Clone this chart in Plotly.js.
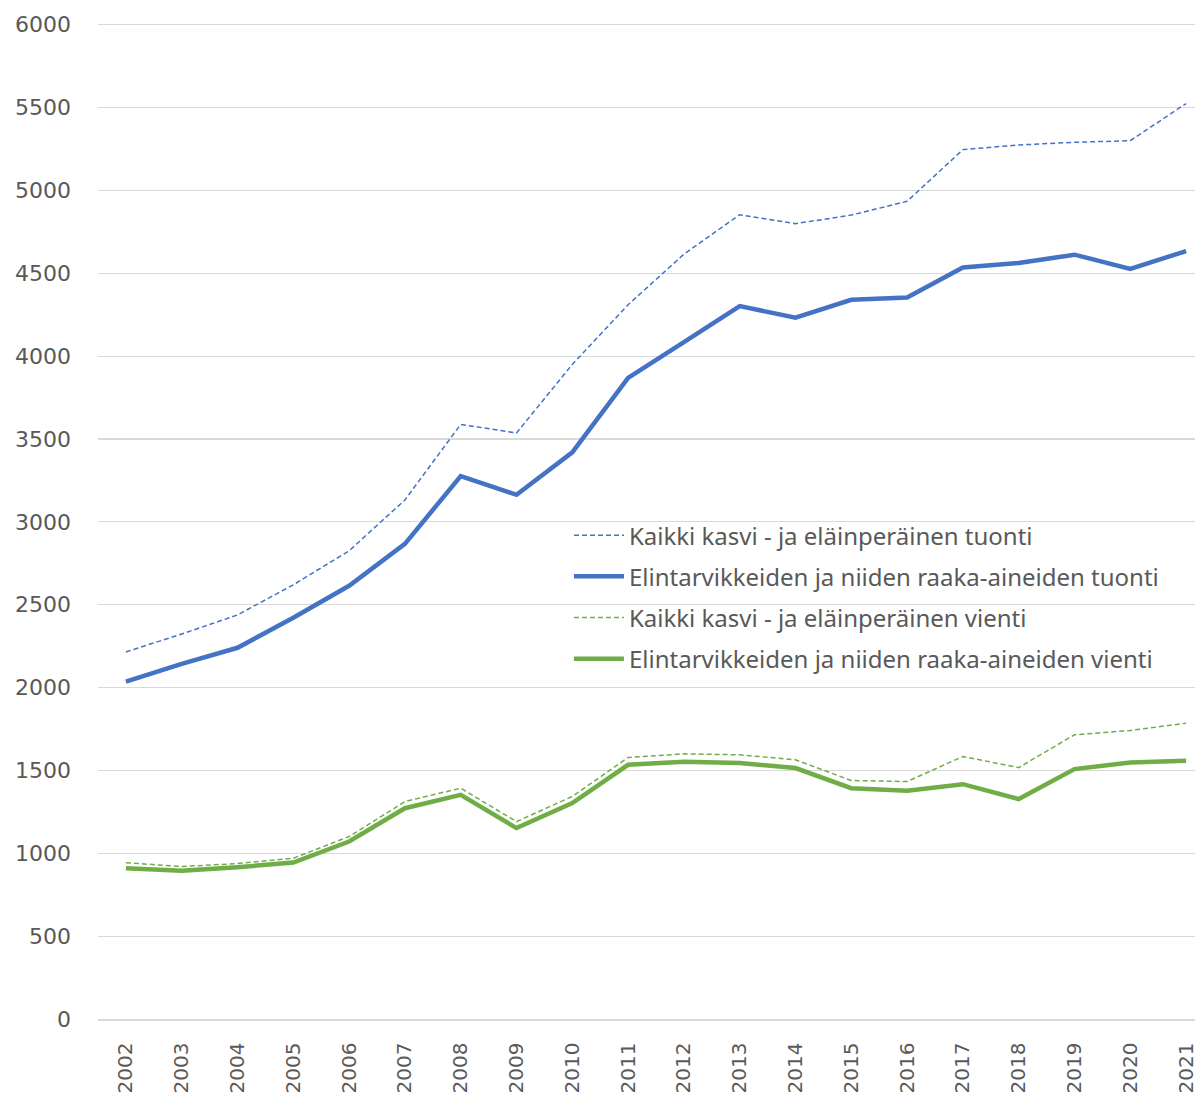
<!DOCTYPE html>
<html>
<head>
<meta charset="utf-8">
<script src="https://cdn.plot.ly/plotly-3.0.1.min.js"></script>
<style>
html,body{margin:0;padding:0;background:#fff;overflow:hidden;}
#chart{width:1215px;height:1093px;}
</style>
</head>
<body>
<div id="chart"></div>
<script>
const years = ["2002","2003","2004","2005","2006","2007","2008","2009","2010","2011","2012","2013","2014","2015","2016","2017","2018","2019","2020","2021"];
const totalImport = [2215,2323,2438,2620,2825,3132,3588,3536,3950,4310,4615,4853,4799,4851,4934,5246,5274,5290,5300,5524];
const foodImport = [2036,2143,2240,2421,2614,2867,3276,3163,3419,3868,4085,4302,4232,4340,4354,4535,4562,4612,4526,4634];
const totalExport = [943,920,938,970,1101,1312,1393,1191,1343,1578,1600,1594,1564,1439,1433,1584,1517,1715,1741,1785];
const foodExport = [910,894,916,944,1071,1272,1353,1152,1303,1534,1552,1544,1514,1393,1377,1417,1327,1508,1548,1558];
const seriesNames = [
  "Kaikki kasvi - ja eläinperäinen tuonti",
  "Elintarvikkeiden ja niiden raaka-aineiden tuonti",
  "Kaikki kasvi - ja eläinperäinen vienti",
  "Elintarvikkeiden ja niiden raaka-aineiden vienti"
];
const blue = "#4472C4", green = "#70AD47";

const traces = [
  {x: years, y: totalImport, name: seriesNames[0], legendgroup: "a", mode: "lines", line: {color: blue, width: 1.5, dash: "5px,3px"}},
  {x: years, y: foodImport, name: seriesNames[1], legendgroup: "b", mode: "lines", line: {color: blue, width: 4.5}},
  {x: years, y: totalExport, name: seriesNames[2], legendgroup: "c", mode: "lines", line: {color: green, width: 1.5, dash: "5px,3px"}},
  {x: years, y: foodExport, name: seriesNames[3], legendgroup: "d", mode: "lines", line: {color: green, width: 4.5}}
];

const layout = {
  width: 1215, height: 1093,
  margin: {l: 98, r: 1, t: 23.3, b: 74, pad: 0},
  paper_bgcolor: "#fff", plot_bgcolor: "#fff",
  showlegend: true,
  legend: {
    x: 0.422, y: 0.508, xanchor: "left", yanchor: "top",
    font: {family: "Noto Sans", size: 24, color: "#595959"},
    tracegroupgap: 7, bgcolor: "rgba(0,0,0,0)", itemwidth: 50
  },
  xaxis: {
    type: "category", range: [-0.5, 19.5],
    showgrid: false, showline: true, linecolor: "#d9d9d9", linewidth: 1.5,
    ticks: "", tickangle: -90, ticklabelstandoff: 14,
    tickfont: {family: "DejaVu Sans", size: 20, color: "#595959"},
    zeroline: false, fixedrange: true
  },
  yaxis: {
    range: [0, 6010], dtick: 500, tick0: 0,
    showgrid: true, gridcolor: "#d9d9d9", gridwidth: 1.2,
    zeroline: false, showline: false, ticks: "", ticklabelstandoff: 26,
    tickfont: {family: "DejaVu Sans", size: 22, color: "#595959"},
    fixedrange: true
  }
};

Plotly.newPlot("chart", traces, layout, {displayModeBar: false, staticPlot: true});
</script>
</body>
</html>
